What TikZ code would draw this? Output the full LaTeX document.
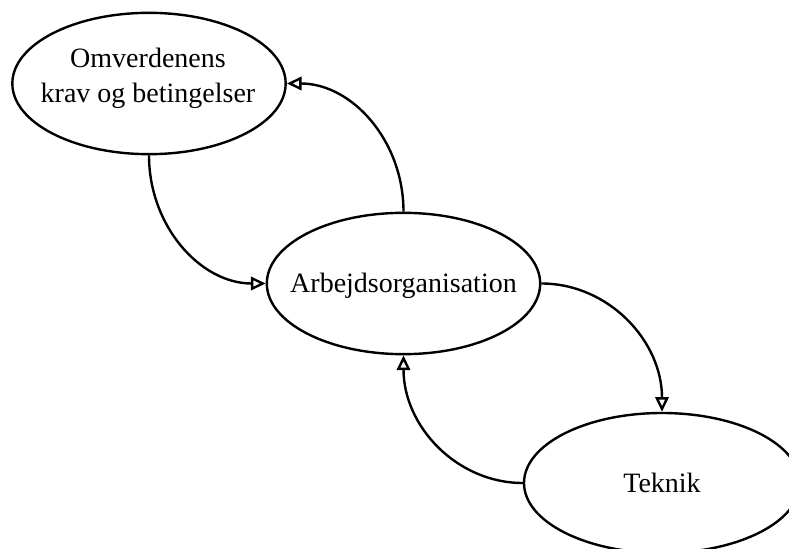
\documentclass[tikz,border=0pt]{standalone}
\usepackage{fontspec}
\setmainfont{Liberation Serif}
\usetikzlibrary{shapes.geometric,arrows.meta}

\begin{document}
\begin{tikzpicture}[
  x=0.75pt, y=-0.75pt,
  bubble/.style={ellipse, draw, line width=1.8pt, inner sep=0pt,
                 minimum width=205pt, minimum height=106pt},
  lbl/.style={align=center, inner sep=0pt, font=\fontsize{21}{26.25}\selectfont},
  flow/.style={line width=1.8pt, -{Triangle[open, length=11pt, width=10pt]}}
]
  \clip (0,0) rectangle (789,549);
  \useasboundingbox (0,0) rectangle (789,549);

  % the three areas
  \node[bubble] (omv) at (149,83.5) {};
  \node[bubble] (org) at (403.5,283.5) {};
  \node[bubble, minimum width=207pt, minimum height=105pt] (tek) at (662,483) {};

  \node[lbl] (omvtxt) at (148,78) {Omverdenens\\krav og betingelser};
  \node[lbl] (orgtxt) at (403.5,286) {Arbejdsorganisation};
  \node[lbl] (tektxt) at (662,483) {Teknik};

  % the cycle between them
  \draw[flow] (org.north) .. controls +(0,-71) and +(65,0) .. (omv.east);
  \draw[flow] (omv.south) .. controls +(0,71) and +(-65,0) .. (org.west);
  \draw[flow] (org.east) .. controls +(67,0) and +(0,-71) .. (tek.north);
  \draw[flow] (tek.west) .. controls +(-66,0) and +(0,71) .. (org.south);
\end{tikzpicture}
\end{document}
